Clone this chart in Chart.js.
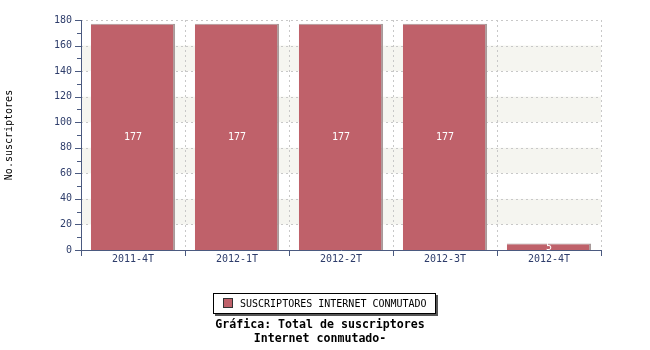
<!DOCTYPE html>
<html><head><meta charset="utf-8">
<script src="https://cdn.jsdelivr.net/npm/chart.js@4"></script>
<style>html,body{margin:0;padding:0;background:#fff}#wrap{width:650px;height:350px}</style>
</head><body><div id="wrap"><canvas id="c" width="650" height="350"></canvas></div>
<script>
const categories = ["2011-4T","2012-1T","2012-2T","2012-3T","2012-4T"];
const values = [177,177,177,177,5];
const seriesName = "SUSCRIPTORES INTERNET CONMUTADO";
const yTitle = "No.suscriptores";
const titleLines = ["Gráfica: Total de suscriptores","Internet conmutado-"];
const yMax = 180, yStep = 20, yMinor = 10;

const axisColor = '#4b5a80';
const tickColor = '#2e3d6b';
const barColor = '#bf616a';
const mono = '"DejaVu Sans Mono"';

const decor = {
  id:'decor',
  beforeDatasetsDraw(chart){
    const ctx = chart.ctx, a = chart.chartArea, y = chart.scales.y;
    ctx.save();
    ctx.fillStyle = '#f5f5f0';
    for (let v = yStep; v < yMax; v += 2*yStep) {
      const t = y.getPixelForValue(v+yStep), b = y.getPixelForValue(v);
      ctx.fillRect(a.left, t, a.right-a.left, b-t);
    }
    ctx.strokeStyle = '#c8c8c8'; ctx.lineWidth = 1; ctx.setLineDash([2,3]);
    for (let v = yStep; v <= yMax; v += yStep) {
      const p = Math.round(y.getPixelForValue(v))+0.5;
      ctx.beginPath(); ctx.moveTo(a.left, p); ctx.lineTo(a.right, p); ctx.stroke();
    }
    const n = categories.length, w = (a.right-a.left)/n;
    for (let i = 1; i <= n; i++) {
      const p = Math.round(a.left + i*w)+0.5;
      ctx.beginPath(); ctx.moveTo(p, a.top); ctx.lineTo(p, a.bottom); ctx.stroke();
    }
    ctx.restore();
  },
  afterDatasetsDraw(chart){
    const ctx = chart.ctx, a = chart.chartArea, y = chart.scales.y;
    ctx.save();
    ctx.strokeStyle = axisColor; ctx.lineWidth = 1; ctx.setLineDash([]);
    ctx.beginPath(); ctx.moveTo(a.left+0.5, a.top); ctx.lineTo(a.left+0.5, a.bottom+1); ctx.stroke();
    ctx.beginPath(); ctx.moveTo(a.left, a.bottom+0.5); ctx.lineTo(a.right+1, a.bottom+0.5); ctx.stroke();
    for (let v = 0; v <= yMax; v += yMinor) {
      const p = Math.round(y.getPixelForValue(v))+0.5;
      const len = (v % yStep === 0) ? 6 : 4;
      ctx.beginPath(); ctx.moveTo(a.left-len, p); ctx.lineTo(a.left, p); ctx.stroke();
    }
    const n = categories.length, w = (a.right-a.left)/n;
    for (let i = 0; i <= n; i++) {
      const p = Math.round(a.left + i*w)+0.5;
      ctx.beginPath(); ctx.moveTo(p, a.bottom); ctx.lineTo(p, a.bottom+6); ctx.stroke();
    }
    ctx.fillStyle = '#ffffff'; ctx.font = '10px ' + mono;
    ctx.textAlign = 'center'; ctx.textBaseline = 'middle';
    chart.getDatasetMeta(0).data.forEach((bar, i) => {
      const yy = (bar.y + bar.base)/2;
      ctx.fillText(String(values[i]), bar.x, values[i] < 20 ? bar.y+4 : yy);
    });
    const lx = 213, ly = 293, lw = 223, lh = 21;
    ctx.fillStyle = '#555'; ctx.fillRect(lx+2, ly+2, lw, lh);
    ctx.fillStyle = '#fff'; ctx.fillRect(lx, ly, lw, lh);
    ctx.strokeStyle = '#000'; ctx.strokeRect(lx+0.5, ly+0.5, lw-1, lh-1);
    ctx.fillStyle = barColor; ctx.fillRect(lx+10, ly+5, 10, 10);
    ctx.strokeStyle = '#333'; ctx.strokeRect(lx+10.5, ly+5.5, 9, 9);
    ctx.fillStyle = '#000'; ctx.textAlign = 'left'; ctx.font = '10px ' + mono;
    ctx.fillText(seriesName, lx+27, ly+11);
    ctx.font = 'bold 11.6px ' + mono; ctx.textAlign = 'center';
    ctx.fillText(titleLines[0], 320, 325);
    ctx.fillText(titleLines[1], 320, 339);
    ctx.restore();
  }
};

new Chart(document.getElementById('c'), {
  type:'bar',
  data:{ labels:categories, datasets:[{ label:seriesName, data:values,
    backgroundColor:barColor, borderColor:'#a89a9a',
    borderWidth:{top:1,right:2,left:0,bottom:0}, borderSkipped:false,
    categoryPercentage:1, barPercentage:0.81 }]},
  options:{
    responsive:false, animation:false, devicePixelRatio:1,
    layout:{ padding:{ left:0, top:20, right:49, bottom:0 } },
    plugins:{ legend:{display:false}, title:{display:false}, tooltip:{enabled:false} },
    scales:{
      x:{ grid:{display:false, drawTicks:false}, border:{display:false},
          ticks:{ color:tickColor, font:{family:'DejaVu Sans Mono', size:10}, padding:3, maxRotation:0 },
          afterFit(s){ s.height = 100; } },
      y:{ min:0, max:yMax, grid:{display:false, drawTicks:false}, border:{display:false},
          ticks:{ stepSize:yStep, color:tickColor, font:{family:'DejaVu Sans Mono', size:10}, padding:9 },
          title:{ display:true, text:yTitle, color:'#000', font:{family:'DejaVu Sans Mono', size:10}, padding:{top:3,bottom:0} },
          afterFit(s){ s.width = 81; } }
    }
  },
  plugins:[decor]
});
</script></body></html>
